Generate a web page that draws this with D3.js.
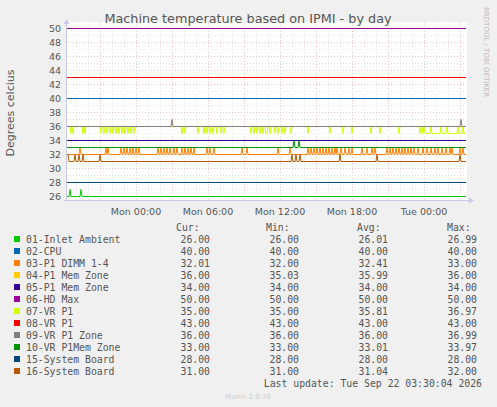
<!DOCTYPE html>
<html><head><meta charset="utf-8">
<script src="https://cdn.jsdelivr.net/npm/d3@7"></script>
<style>body{margin:0;background:#f0f0f0}svg{display:block}</style>
</head><body>
<script>
// 5-minute samples from Sun 20 Sep 18:15 to Tue 22 Sep 03:30
const nSamples = 400;
const seriesNames = ["01-Inlet Ambient","02-CPU","03-P1 DIMM 1-4","04-P1 Mem Zone","05-P1 Mem Zone","06-HD Max",
  "07-VR P1","08-VR P1","09-VR P1 Zone","10-VR P1Mem Zone","15-System Board","16-System Board"];
const seriesColors = ["#00cc00","#0066b3","#ff8000","#ffcc00","#330099","#990099",
  "#ccff00","#ff0000","#808080","#008f00","#00487d","#b35a00"];
const baseValues = [26,40,32,36,34,50,36,43,36,33,28,31];
// sample indices where each series leaves its base value
const inletSpikes = [3,14];
const dimmUps = [13,39,41,54,57,60,63,66,69,72,91,94,97,100,103,107,110,115,118,121,124,127,140,143,147,175,180,
  211,223,241,244,247,250,253,256,259,262,265,268,270,274,278,282,285,295,300,305,308,
  320,323,326,329,332,335,338,341,344,347,351,356,360,364,368,371,375,379,383,385,393,396];
const vrDips = [4,6,16,18,34,37,40,43,46,49,52,55,58,61,64,67,115,118,131,137,140,143,146,150,154,157,
  184,187,190,193,196,199,200,203,208,211,215,218,224,241,263,276,285,304,313,332,353,356];
const vrLowFrom = 358, vrBumps = [364,374,380,391,396];
const zoneSpikes = [105,394];
const memZoneSpikes = [227,232];
const boardUps = [0,1,8,12,16,33,225,229,233,273,310,393];
const legendCur = ["26.00","40.00","32.01","36.00","34.00","50.00","35.00","43.00","36.00","33.00","28.00","31.00"];
const legendMin = ["26.00","40.00","32.00","35.03","34.00","50.00","35.00","43.00","36.00","33.00","28.00","31.00"];
const legendAvg = ["26.01","40.00","32.41","35.99","34.00","50.00","35.81","43.00","36.00","33.01","28.00","31.04"];
const legendMax = ["26.99","40.00","33.00","36.00","34.00","50.00","36.97","43.00","36.99","33.97","28.00","32.00"];
const yTicks = [26,28,30,32,34,36,38,40,42,44,46,48,50];

const t0 = new Date(2026, 8, 20, 18, 15);
const tAt = i => new Date(+t0 + i * 300000);

const series = baseValues.map((b, k) => d3.range(nSamples).map(i => b));
inletSpikes.forEach(i => series[0][i] = 27);
dimmUps.forEach(i => series[2][i] = 33);
vrDips.forEach(i => series[6][i] = 35);
for (let i = vrLowFrom; i < nSamples; i++) series[6][i] = vrBumps.includes(i) ? 36 : 35;
zoneSpikes.forEach(i => series[8][i] = 37);
memZoneSpikes.forEach(i => series[9][i] = 34);
boardUps.forEach(i => series[11][i] = 32);

const W = 497, H = 407;
const svg = d3.select("body").append("svg").attr("width", W).attr("height", H)
  .style("font-family", "DejaVu Sans");

const x = d3.scaleTime().domain([t0, tAt(nSamples - 1)]).range([67, 466]);
const y = d3.scaleLinear().domain([25.3, 50.6]).range([201, 23.9]);

svg.append("rect").attr("x", 67).attr("y", 22).attr("width", 400).attr("height", 179).attr("fill", "#fff");

// grid
const hours = d3.timeHour.every(1).range(t0, tAt(nSamples));
svg.append("g").selectAll("line").data(hours).join("line")
  .attr("x1", d => Math.round(x(d)) + .5).attr("x2", d => Math.round(x(d)) + .5)
  .attr("y1", 22).attr("y2", 201)
  .attr("stroke", d => d.getHours() % 3 === 0 ? "#f0c4c4" : "#e4e4e4").attr("stroke-dasharray", "1,2");
svg.append("g").selectAll("line").data(d3.range(26, 51)).join("line")
  .attr("x1", 67).attr("x2", 466)
  .attr("y1", d => Math.round(y(d)) + .5).attr("y2", d => Math.round(y(d)) + .5)
  .attr("stroke", d => d % 2 === 0 ? "#f0c4c4" : "#e4e4e4").attr("stroke-dasharray", "1,2");

// axes lines
svg.append("line").attr("x1", 66.5).attr("x2", 66.5).attr("y1", 20).attr("y2", 201).attr("stroke", "#c8c8e8");
svg.append("line").attr("x1", 64).attr("x2", 470).attr("y1", 200.5).attr("y2", 200.5).attr("stroke", "#c8c8e8");
svg.append("path").attr("d", "M63.5,24 L66.5,19 L69.5,24 Z").attr("fill", "#c8c8e8");
svg.append("path").attr("d", "M469,197.5 L474,200.5 L469,203.5 Z").attr("fill", "#c8c8e8");

// lines
const line = d3.line().x((v, i) => x(tAt(i))).y(v => Math.round(y(v)) + .5);
svg.append("g").selectAll("path").data(series).join("path")
  .attr("d", line).attr("fill", "none")
  .attr("stroke", (d, k) => seriesColors[k]).attr("stroke-width", 1);

// tick labels
svg.append("g").selectAll("text").data(yTicks).join("text")
  .attr("x", 61).attr("y", d => y(d) + 3.5).attr("text-anchor", "end")
  .attr("font-size", 9.5).attr("fill", "#555").text(d => d);
const xLabels = d3.range(5).map(i => new Date(2026, 8, 21, i * 6));
svg.append("g").selectAll("text").data(xLabels).join("text")
  .attr("x", d => x(d)).attr("y", 215).attr("text-anchor", "middle")
  .attr("font-size", 9.5).attr("fill", "#555").text(d3.timeFormat("%a %H:%M"));

svg.append("text").attr("x", 248).attr("y", 23).attr("text-anchor", "middle")
  .attr("font-size", 12.8).attr("fill", "#555").text("Machine temperature based on IPMI - by day");
svg.append("text").attr("transform", "translate(14,113) rotate(-90)").attr("text-anchor", "middle")
  .attr("font-size", 11).attr("fill", "#555").text("Degrees celcius");
svg.append("text").attr("transform", "translate(484,7) rotate(90)")
  .attr("font-size", 7).attr("fill", "#bbb").text("RRDTOOL / TOBI OETIKER");

// legend
const mono = svg.append("g").style("font-family", "DejaVu Sans Mono").attr("font-size", 9.8).attr("fill", "#555");
[["Cur:", 176], ["Min:", 266], ["Avg:", 357], ["Max:", 447]].forEach(([t, xx]) =>
  mono.append("text").attr("x", xx).attr("y", 231).text(t));
const rows = mono.selectAll("g.row").data(seriesNames).join("g").attr("class", "row")
  .attr("transform", (d, i) => `translate(0,${243 + i * 12})`);
rows.append("rect").attr("x", 14).attr("y", -7).attr("width", 6).attr("height", 6)
  .attr("fill", (d, i) => seriesColors[i]);
rows.append("text").attr("x", 26).text(d => d);
[[legendCur, 210], [legendMin, 299], [legendAvg, 388], [legendMax, 477]].forEach(([arr, xx]) =>
  rows.append("text").attr("x", xx).attr("text-anchor", "end").text((d, i) => arr[i]));
mono.append("text").attr("x", 482).attr("y", 387).attr("text-anchor", "end")
  .text("Last update: Tue Sep 22 03:30:04 2026");
svg.append("text").attr("x", 248).attr("y", 399).attr("text-anchor", "middle")
  .attr("font-size", 7).attr("fill", "#ccc").text("Munin 2.0.76");
</script>
</body></html>
